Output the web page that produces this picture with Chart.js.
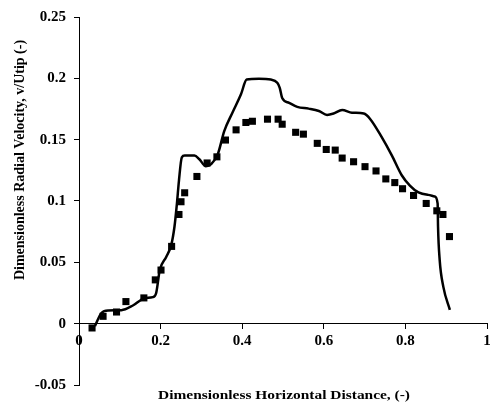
<!DOCTYPE html>
<html>
<head>
<meta charset="utf-8">
<script src="https://cdn.jsdelivr.net/npm/chart.js@4/dist/chart.umd.min.js"></script>
<style>
html,body{margin:0;padding:0;background:#fff;}
#wrap{width:492px;height:408px;}
</style>
</head>
<body>
<div id="wrap"><canvas id="c" width="492" height="408"></canvas></div>
<script>
const markerX = [0.032,0.059,0.092,0.115,0.159,0.187,0.201,0.227,0.245,0.25,0.259,0.289,0.314,0.338,0.359,0.385,0.409,0.425,0.462,0.488,0.498,0.531,0.55,0.584,0.606,0.628,0.645,0.673,0.701,0.728,0.752,0.774,0.793,0.82,0.851,0.877,0.892,0.908];
const markerY = [-0.0035,0.006,0.0095,0.018,0.021,0.0357,0.0437,0.063,0.089,0.0994,0.1067,0.12,0.131,0.136,0.1497,0.158,0.164,0.165,0.1667,0.1667,0.1626,0.156,0.1545,0.147,0.142,0.1415,0.135,0.132,0.128,0.1245,0.118,0.115,0.11,0.1045,0.098,0.092,0.089,0.071];
const lineX = [0.039,0.055,0.072,0.104,0.132,0.161,0.181,0.189,0.198,0.214,0.226,0.234,0.240,0.245,0.252,0.259,0.283,0.295,0.311,0.324,0.340,0.356,0.376,0.397,0.411,0.441,0.470,0.486,0.492,0.498,0.515,0.535,0.563,0.588,0.608,0.624,0.645,0.669,0.698,0.714,0.742,0.767,0.791,0.811,0.832,0.856,0.872,0.879,0.880,0.884,0.893,0.909];
const lineY = [-0.002,0.0087,0.0108,0.011,0.0148,0.0208,0.0216,0.0248,0.0437,0.0546,0.064,0.079,0.0978,0.1167,0.1356,0.137,0.137,0.134,0.1283,0.130,0.138,0.157,0.172,0.187,0.199,0.1996,0.199,0.1964,0.1923,0.184,0.180,0.1767,0.1753,0.1734,0.1702,0.1713,0.1742,0.172,0.1713,0.1667,0.152,0.137,0.121,0.1126,0.107,0.105,0.1037,0.0978,0.079,0.052,0.030,0.0113];
const xTicks = [0,0.2,0.4,0.6,0.8,1];
const yTicks = [-0.05,0,0.05,0.1,0.15,0.2,0.25];
const xTitle = 'Dimensionless Horizontal Distance, (-)';
const yTitle = 'Dimensionless Radial Velocity, v/Utip (-)';

const FONT = "'Liberation Serif','Times New Roman',serif";
const fmt = v => { const r = Math.round(v*100)/100; return String(r); };

const titlesPlugin = {
  id: 'axisTitles',
  afterDraw(chart) {
    const ctx = chart.ctx;
    ctx.save();
    ctx.fillStyle = '#000';
    ctx.font = "bold 13.5px " + FONT;
    ctx.textAlign = 'center';
    ctx.textBaseline = 'middle';
    const w = ctx.measureText(xTitle).width;
    const sx = 252 / w;
    ctx.save();
    ctx.translate(284, 396);
    ctx.scale(sx, 1);
    ctx.fillText(xTitle, 0, 0);
    ctx.restore();
    ctx.font = "bold 14px " + FONT;
    ctx.translate(20, 160);
    ctx.rotate(-Math.PI/2);
    ctx.fillText(yTitle, 0, 0);
    ctx.restore();
  }
};

new Chart(document.getElementById('c'), {
  type: 'scatter',
  data: {
    datasets: [
      {
        label: 'Simulation',
        data: lineX.map((x,i)=>({x:x,y:lineY[i]})),
        showLine: true,
        borderColor: '#000',
        borderWidth: 2.5,
        pointRadius: 0,
        cubicInterpolationMode: 'monotone',
        fill: false,
        order: 2
      },
      {
        label: 'Experiment',
        data: markerX.map((x,i)=>({x:x,y:markerY[i]})),
        showLine: false,
        pointStyle: 'rect',
        pointRadius: 5,
        pointBackgroundColor: '#000',
        pointBorderColor: '#000',
        pointBorderWidth: 0,
        order: 1
      }
    ]
  },
  plugins: [titlesPlugin],
  options: {
    responsive: false,
    animation: false,
    devicePixelRatio: 1,
    layout: { padding: { top: 15, right: 2, left: 0, bottom: 23 } },
    plugins: {
      legend: { display: false },
      tooltip: { enabled: false },
      title: { display: false }
    },
    scales: {
      x: {
        type: 'linear',
        position: { y: 0 },
        min: 0, max: 1,
        afterBuildTicks: s => { s.ticks = xTicks.map(v=>({value:v})); },
        afterFit: s => { s.paddingLeft = 0; s.paddingRight = 0; },
        ticks: {
          color: '#000',
          font: { family: FONT, size: 15, weight: 'bold' },
          padding: 3,
          maxRotation: 0,
          callback: v => fmt(v)
        },
        grid: { display: true, drawOnChartArea: false, drawTicks: true, tickLength: 5, color: '#000', lineWidth: 1 },
        border: { display: true, color: '#000', width: 1 }
      },
      y: {
        type: 'linear',
        position: 'left',
        min: -0.05, max: 0.25,
        afterBuildTicks: s => { s.ticks = yTicks.map(v=>({value:v})); },
        afterFit: s => { s.width = 79; },
        ticks: {
          color: '#000',
          font: { family: FONT, size: 15, weight: 'bold' },
          padding: 8,
          callback: v => fmt(v)
        },
        grid: { display: true, drawOnChartArea: false, drawTicks: true, tickLength: 5, color: '#000', lineWidth: 1 },
        border: { display: true, color: '#000', width: 1 },
        title: { display: false }
      }
    }
  }
});
</script>
</body>
</html>
